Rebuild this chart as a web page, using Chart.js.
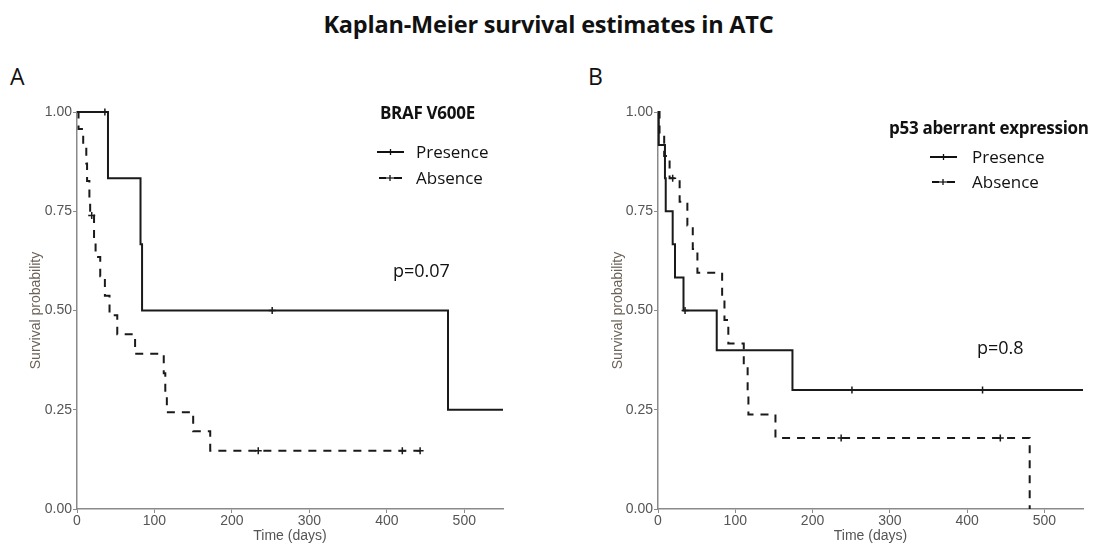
<!DOCTYPE html>
<html>
<head>
<meta charset="utf-8">
<script src="https://cdn.jsdelivr.net/npm/chart.js@4.4.1/dist/chart.umd.min.js"></script>
<style>
  body { margin: 0; background: #fff; width: 1097px; height: 543px; position: relative; overflow: hidden; font-family: "Open Sans", sans-serif; }
  .abs { position: absolute; white-space: nowrap; line-height: 1; }
  canvas { position: absolute; }
  .title { left: 0; width: 1097px; top: 13px; text-align: center; font-weight: bold; font-size: 23.5px; color: #111; letter-spacing: -0.2px; }
  .panel { font-size: 23px; color: #111; }
  .lgtitle { font-weight: bold; font-size: 17px; color: #111; letter-spacing: -0.3px; }
  .lgitem { font-size: 17px; color: #111; }
  .pval { font-size: 18px; color: #111; }
</style>
</head>
<body>
<div class="abs title">Kaplan-Meier survival estimates in ATC</div>
<div class="abs panel" style="left:10px; top:65px;">A</div>
<div class="abs panel" style="left:588px; top:65px;">B</div>

<canvas id="chartA" width="540" height="453" style="left:0; top:90px;"></canvas>
<canvas id="chartB" width="537" height="453" style="left:560px; top:90px;"></canvas>

<div class="abs lgtitle" style="left:380px; top:104px;">BRAF V600E</div>
<svg class="abs" style="left:376px; top:145px;" width="30" height="40">
  <line x1="1" y1="7" x2="28" y2="7" stroke="#111" stroke-width="2"/>
  <line x1="14.5" y1="4" x2="14.5" y2="10" stroke="#111" stroke-width="1.3"/>
  <line x1="3" y1="33" x2="10" y2="33" stroke="#111" stroke-width="2"/>
  <line x1="18" y1="33" x2="26" y2="33" stroke="#111" stroke-width="2"/>
  <line x1="10" y1="33" x2="18" y2="33" stroke="#111" stroke-width="1.2"/>
  <line x1="14" y1="30" x2="14" y2="36" stroke="#111" stroke-width="1.3"/>
</svg>
<div class="abs lgitem" style="left:416px; top:143px;">Presence</div>
<div class="abs lgitem" style="left:416px; top:169px;">Absence</div>
<div class="abs pval" style="left:393px; top:261px;">p=0.07</div>

<div class="abs lgtitle" style="left:889px; top:119px;">p53 aberrant expression</div>
<svg class="abs" style="left:929px; top:150px;" width="30" height="40">
  <line x1="1" y1="7" x2="28" y2="7" stroke="#111" stroke-width="2"/>
  <line x1="14.5" y1="4" x2="14.5" y2="10" stroke="#111" stroke-width="1.3"/>
  <line x1="3" y1="32" x2="10" y2="32" stroke="#111" stroke-width="2"/>
  <line x1="18" y1="32" x2="26" y2="32" stroke="#111" stroke-width="2"/>
  <line x1="10" y1="32" x2="18" y2="32" stroke="#111" stroke-width="1.2"/>
  <line x1="14" y1="29" x2="14" y2="35" stroke="#111" stroke-width="1.3"/>
</svg>
<div class="abs lgitem" style="left:972px; top:148px;">Presence</div>
<div class="abs lgitem" style="left:972px; top:173px;">Absence</div>
<div class="abs pval" style="left:977px; top:338px;">p=0.8</div>

<script>
// tick labels
const xTicks = [0, 100, 200, 300, 400, 500];
const yTicks = [0, 0.25, 0.5, 0.75, 1];

// A: BRAF V600E
const timeA_presence = [0, 40, 82, 84, 479, 550];
const survA_presence = [1, 0.833, 0.667, 0.5, 0.25, 0.25];
const censTimeA_presence = [36, 252];
const censSurvA_presence = [1, 0.5];

const timeA_absence = [0, 2, 8, 12, 13, 16, 17, 22, 24, 30, 36, 42, 52, 75, 112, 114, 116, 150, 172, 443];
const survA_absence = [1, 0.957, 0.913, 0.87, 0.826, 0.783, 0.739, 0.68, 0.635, 0.586, 0.537, 0.488, 0.44, 0.391, 0.342, 0.293, 0.244, 0.196, 0.147, 0.147];
const censTimeA_absence = [19, 234, 420, 443];
const censSurvA_absence = [0.739, 0.147, 0.147, 0.147];

// B: p53 aberrant expression
const timeB_presence = [0, 1, 9, 10, 19, 22, 33, 76, 174, 550];
const survB_presence = [1, 0.917, 0.833, 0.75, 0.667, 0.583, 0.5, 0.4, 0.3, 0.3];
const censTimeB_presence = [35, 251, 420];
const censSurvB_presence = [0.5, 0.3, 0.3];

const timeB_absence = [0, 2, 8, 15, 28, 38, 45, 51, 83, 86, 91, 111, 116, 117, 152, 481];
const survB_absence = [1, 0.944, 0.889, 0.833, 0.774, 0.714, 0.655, 0.595, 0.536, 0.476, 0.417, 0.357, 0.298, 0.238, 0.179, 0];
const censTimeB_absence = [19, 237, 443];
const censSurvB_absence = [0.833, 0.179, 0.179];

const pts = (xs, ys) => xs.map((x, i) => ({ x: x, y: ys[i] }));

function kmChart(id, pres, abs, censPres, censAbs, pad, yWidth) {
  const axisGray = '#8a8a8a';
  const tickFont = { family: 'Liberation Sans', size: 14 };
  const censor = { showLine: false, pointStyle: 'cross', pointRadius: 3.5, pointBorderWidth: 1.5, pointBorderColor: '#1a1a1a', clip: false };
  return new Chart(document.getElementById(id), {
    type: 'line',
    data: {
      datasets: [
        // step holds the previous value until the next event time
        { data: pres, stepped: 'before', borderColor: '#1a1a1a', borderWidth: 2, pointRadius: 0, fill: false, clip: false },
        { data: abs, stepped: 'before', borderColor: '#1a1a1a', borderWidth: 2, borderDash: [8, 7], pointRadius: 0, fill: false, clip: false },
        Object.assign({ data: censPres }, censor),
        Object.assign({ data: censAbs }, censor)
      ]
    },
    options: {
      responsive: false,
      animation: false,
      devicePixelRatio: 1,
      layout: { padding: pad },
      plugins: { legend: { display: false }, tooltip: { enabled: false } },
      scales: {
        x: {
          type: 'linear', min: 0, max: 550,
          afterBuildTicks: (s) => { s.ticks = xTicks.map(v => ({ value: v })); },
          afterFit: (s) => { s.height = 34; },
          grid: { drawOnChartArea: false, drawTicks: true, tickLength: 4, color: axisGray, lineWidth: 1 },
          border: { color: axisGray, width: 1.5 },
          ticks: { color: '#555', font: tickFont, padding: 0, maxRotation: 0 },
          title: { display: true, text: 'Time (days)', color: '#555', font: { family: 'Liberation Sans', size: 14 }, padding: { top: 0, bottom: -2 } }
        },
        y: {
          type: 'linear', min: 0, max: 1,
          afterBuildTicks: (s) => { s.ticks = yTicks.map(v => ({ value: v })); },
          afterFit: (s) => { s.width = yWidth; },
          grid: { drawOnChartArea: false, drawTicks: true, tickLength: 4, color: axisGray, lineWidth: 1 },
          border: { color: axisGray, width: 1.5 },
          ticks: { color: '#555', font: tickFont, padding: 1, callback: (v) => Number(v).toFixed(2) },
          title: { display: true, text: 'Survival probability', color: '#6b6259', font: { family: 'Liberation Sans', size: 14 }, padding: 0 }
        }
      }
    }
  });
}

kmChart('chartA',
  pts(timeA_presence, survA_presence), pts(timeA_absence, survA_absence),
  pts(censTimeA_presence, censSurvA_presence), pts(censTimeA_absence, censSurvA_absence),
  { left: 28, top: 22, right: 37, bottom: 0 }, 49);

kmChart('chartB',
  pts(timeB_presence, survB_presence), pts(timeB_absence, survB_absence),
  pts(censTimeB_presence, censSurvB_presence), pts(censTimeB_absence, censSurvB_absence),
  { left: 50, top: 22, right: 14, bottom: 0 }, 48);
</script>
</body>
</html>
